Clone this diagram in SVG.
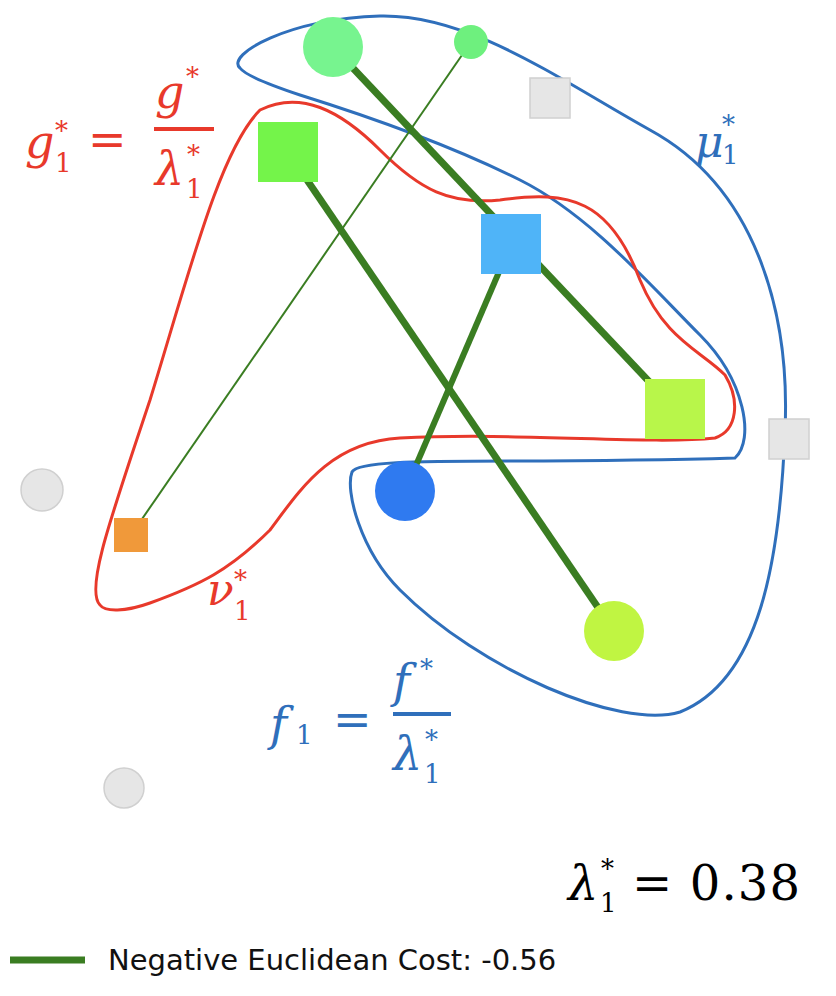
<svg xmlns="http://www.w3.org/2000/svg" width="836" height="996" viewBox="0 0 836 996">
<style>
.m{font-family:"DejaVu Serif","Liberation Serif",serif;font-style:italic}
.n{font-family:"DejaVu Serif","Liberation Serif",serif}
.r{fill:#e8392b}.b{fill:#2f6fbb}
.g{fill:#e6e6e6;stroke:#d0d0d0;stroke-width:1.5}
.c{stroke:#3a7d22;stroke-linecap:butt}
</style>
<rect width="836" height="996" fill="#fff"/>
<g id="contours" fill="none" stroke-width="3">
<path d="M240,68 C225,55 290,18 380,16 C470,14 560,80 650,130 C760,190 790,320 785,430 C780,560 760,680 680,712 C620,730 480,670 400,590 C360,550 345,490 352,472 C360,455 500,465 735,458 C755,440 745,380 700,335 C650,285 590,215 520,180 C460,150 380,120 300,95 C270,85 245,75 240,68 Z" stroke="#2f6fbb"/>
<path d="M100,605 C85,590 110,520 150,400 C190,270 220,150 260,110 C300,90 340,110 380,150 C420,190 450,205 500,200 C570,190 610,200 640,280 C665,340 700,350 725,375 C740,400 738,430 715,438 C650,445 520,432 400,438 C330,442 300,490 270,530 C230,570 200,585 150,603 C125,612 105,612 100,605 Z" stroke="#e8392b"/>
</g>
<g id="connectors" class="c">
<line x1="333" y1="47" x2="675" y2="409" stroke-width="7"/>
<line x1="288" y1="152" x2="614" y2="631" stroke-width="7"/>
<line x1="511" y1="244" x2="405" y2="491" stroke-width="6"/>
<line x1="471" y1="42" x2="131" y2="535" stroke-width="2"/>
</g>
<g id="n1"><circle cx="333" cy="47" r="30" fill="#77f48f"/></g>
<g id="n2"><circle cx="471" cy="42" r="17" fill="#6ef07e"/></g>
<g id="n3"><rect x="530" y="78" width="40" height="40" class="g"/></g>
<g id="n4"><rect x="258" y="122" width="60" height="60" fill="#74f44a"/></g>
<g id="n5"><rect x="481" y="214" width="60" height="60" fill="#4fb4f8"/></g>
<g id="n6"><rect x="645" y="379" width="60" height="60" fill="#b8f64a"/></g>
<g id="n7"><rect x="769" y="419" width="40" height="40" class="g"/></g>
<g id="n8"><circle cx="42" cy="490" r="21" class="g"/></g>
<g id="n9"><rect x="114" y="518" width="34" height="34" fill="#f0993a"/></g>
<g id="n10"><circle cx="405" cy="491" r="30" fill="#2f7af0"/></g>
<g id="n11"><circle cx="614" cy="631" r="30" fill="#c0f542"/></g>
<g id="n12"><circle cx="124" cy="788" r="20" class="g"/></g>
<g id="labels">
<text x="25" y="158" class="m r" font-size="46">g</text><text x="55" y="172" class="n r" font-size="26">1</text><text x="55" y="140" class="n r" font-size="26">*</text>
<text x="88" y="155" class="n r" font-size="46">=</text>
<text x="155" y="108" class="m r" font-size="46">g</text><text x="186" y="86" class="n r" font-size="26">*</text>
<rect x="154" y="127" width="60" height="4" class="r"/>
<text x="155" y="185" class="m r" font-size="46">λ</text><text x="186" y="198" class="n r" font-size="26">1</text><text x="187" y="164" class="n r" font-size="26">*</text>
<text x="270" y="740" class="m b" font-size="46">f</text><text x="296" y="744" class="n b" font-size="26">1</text>
<text x="333" y="735" class="n b" font-size="46">=</text>
<text x="393" y="697" class="m b" font-size="46">f</text><text x="420" y="678" class="n b" font-size="26">*</text>
<rect x="393" y="712" width="58" height="4" class="b"/>
<text x="393" y="770" class="m b" font-size="46">λ</text><text x="424" y="783" class="n b" font-size="26">1</text><text x="425" y="749" class="n b" font-size="26">*</text>
<text x="695" y="157" class="m b" font-size="44">μ</text><text x="722" y="164" class="n b" font-size="26">1</text><text x="722" y="134" class="n b" font-size="26">*</text>
<text x="207" y="605" class="m r" font-size="44">ν</text><text x="234" y="620" class="n r" font-size="26">1</text><text x="234" y="589" class="n r" font-size="26">*</text>
<text x="568" y="900" class="m" font-size="48" fill="#000">λ</text><text x="600" y="912" class="n" font-size="26">1</text><text x="601" y="878" class="n" font-size="26">*</text>
<text x="632" y="900" class="n" font-size="48" fill="#000" textLength="168">= 0.38</text>
</g>
<g id="legend">
<line x1="10" y1="960" x2="85" y2="960" class="c" stroke-width="7"/>
<text x="108" y="970" font-family="DejaVu Sans,sans-serif" font-size="29" fill="#111">Negative Euclidean Cost: -0.56</text>
</g>
</svg>
